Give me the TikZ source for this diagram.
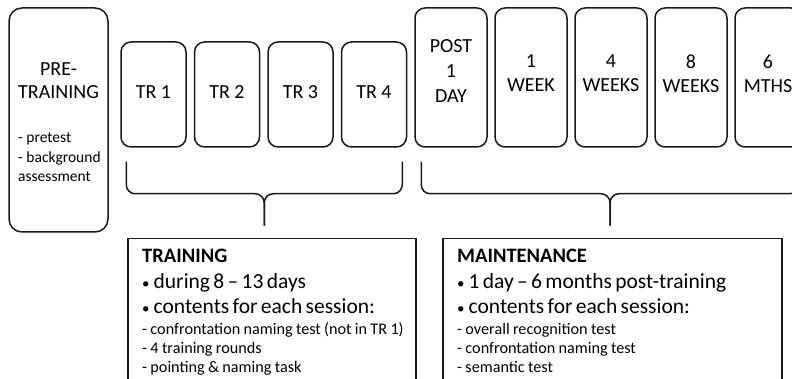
\documentclass[tikz,border=0pt]{standalone}
\usepackage{fontspec}
\setmainfont{Carlito}
\usetikzlibrary{positioning,calc}
\newcommand{\blt}{{\fontsize{15}{15}\selectfont •}\hspace{4pt}}

\begin{document}
\begin{tikzpicture}[
  x=1pt,y=1pt,
  rbox/.style={draw=black!90,line width=1.5pt,rounded corners=10pt,inner sep=0pt,
    minimum width=72pt,minimum height=139pt},
  trbox/.style={rbox,minimum width=65pt,minimum height=105pt},
  infobox/.style={draw=black!90,line width=1.5pt,inner sep=0pt,anchor=north west,
    minimum height=170pt},
  lbl/.style={align=center,inner sep=0pt,font=\fontsize{20}{24}\selectfont},
  txt/.style={align=left,inner sep=0pt,anchor=north west},
  brace/.style={draw=black!90,line width=1.5pt,rounded corners=9pt}
]
\clip (0,0) rectangle (792,-379);
% pre-training
\node[rbox,rounded corners=13pt,minimum width=99pt,minimum height=224pt] (pre) at (58.5,-120) {};
\node[lbl,font=\fontsize{20}{23}\selectfont] (pretitle) at (58.5,-81) {PRE-\\TRAINING};
\node[txt,font=\fontsize{15.5}{19.5}\selectfont] (prelist) at (18,-133) {- pretest\\- background\\assessment};
% training sessions
\node[trbox] (tr1) at (153.5,-94.5) {};
\node[trbox,right=7pt of tr1] (tr2) {};
\node[trbox,right=7pt of tr2] (tr3) {};
\node[trbox,right=7pt of tr3] (tr4) {};
\foreach \i in {1,...,4}
  \node[lbl] (trl\i) at ([yshift=2.5pt]tr\i.center) {TR \i};
% maintenance sessions
\node[rbox] (post) at (451,-77.5) {};
\node[rbox,right=6.5pt of post] (wk1) {};
\node[rbox,right=6.5pt of wk1] (wk4) {};
\node[rbox,right=6.5pt of wk4] (wk8) {};
\node[rbox,right=6.5pt of wk8,minimum width=66pt] (mo6) {};
\node[lbl,font=\fontsize{20}{25}\selectfont] (postl) at ([yshift=6pt]post.center) {POST\\1\\DAY};
\node[lbl] (wk1l) at ([yshift=4pt]wk1.center) {1\\WEEK};
\node[lbl] (wk4l) at ([yshift=4pt]wk4.center) {4\\WEEKS};
\node[lbl] (wk8l) at ([yshift=4pt]wk8.center) {8\\WEEKS};
\node[lbl] (mo6l) at ([yshift=4pt]mo6.center) {6\\MTHS};
% braces
\coordinate (b1l) at ([shift={(6,-14)}]tr1.south west);
\coordinate (b1r) at ([shift={(-5,-14)}]tr4.south east);
\coordinate (b1m) at ($(b1l)!.5!(b1r)+(0,-32)$);
\coordinate (b1t) at ($(b1m)+(0,-32)$);
\draw[brace] (b1l) |- (b1m) -- (b1t);
\draw[brace] (b1r) |- (b1m) -- (b1t);
\coordinate (b2l) at ([shift={(7,-14)}]post.south west);
\coordinate (b2r) at ([shift={(-3,-14)}]mo6.south east);
\coordinate (b2m) at ($(b2l)!.5!(b2r)+(0,-32)$);
\coordinate (b2t) at ($(b2m)+(0,-32)$);
\draw[brace] (b2l) |- (b2m) -- (b2t);
\draw[brace] (b2r) |- (b2m) -- (b2t);
% phase boxes
\node[infobox,minimum width=288pt] (train) at (127,-238) {};
\node[infobox,minimum width=339pt] (maint) at (442,-238) {};
\node[txt,text width=275pt] (traintxt) at ([shift={(15,-11)}]train.north west) {%
  {\fontsize{20.5}{20}\bfseries TRAINING\par}
  {\fontsize{21.5}{26}\selectfont \blt during 8 – 13 days\par}
  {\fontsize{21.5}{24.5}\selectfont \blt contents for each session:\par}
  {\fontsize{16.2}{21}\selectfont - confrontation naming test (not in TR 1)\par}
  {\fontsize{16.2}{19}\selectfont - 4 training rounds\par
   - pointing \& naming task\par}};
\node[txt,text width=325pt] (mainttxt) at ([shift={(15,-11)}]maint.north west) {%
  {\fontsize{20.5}{20}\bfseries MAINTENANCE\par}
  {\fontsize{21.5}{26}\selectfont \blt 1 day – 6 months post-training\par}
  {\fontsize{21.5}{24.5}\selectfont \blt contents for each session:\par}
  {\fontsize{16.2}{21}\selectfont - overall recognition test\par}
  {\fontsize{16.2}{19}\selectfont - confrontation naming test\par
   - semantic test\par}};
\end{tikzpicture}
\end{document}
